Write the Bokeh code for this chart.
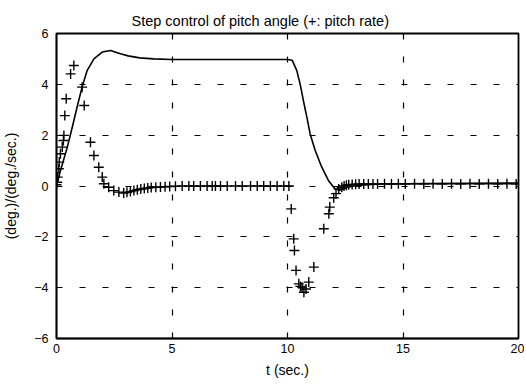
from bokeh.plotting import figure
from bokeh.models import Range1d, FixedTicker, Title
from bokeh.embed import file_html
from bokeh.resources import INLINE

# pitch angle (solid line)
t_angle = [0, 0.17, 0.46, 0.68, 0.89, 1.11, 1.33, 1.62, 1.98, 2.34, 2.77, 3.1, 3.6, 4.2, 5.0, 7.0,
           10.0, 10.2, 10.4, 10.55, 10.69, 10.84, 10.98, 11.2, 11.48, 11.77, 12.06, 12.25, 12.6,
           13.0, 14.0, 16.0, 20.0]
angle = [0, 0.6, 1.5, 2.3, 3.1, 3.9, 4.55, 5.0, 5.27, 5.33, 5.2, 5.12, 5.04, 5.0, 4.98, 4.98,
         4.98, 4.95, 4.55, 4.0, 3.35, 2.7, 2.05, 1.4, 0.75, 0.22, -0.12, -0.17, -0.05,
         0.02, 0.08, 0.1, 0.12]

# pitch rate (+ markers)
t_rate = [0.0, 0.03, 0.05, 0.1, 0.12, 0.17, 0.25, 0.3, 0.32, 0.36, 0.42, 0.61, 0.75, 1.11, 1.2,
          1.47, 1.62, 1.83, 1.98, 2.05, 2.26, 2.48, 2.7, 2.91, 3.05, 3.2, 3.35, 3.5, 3.65, 3.8,
          3.95, 4.1, 4.3, 4.5, 4.7, 4.9, 5.15, 5.44, 5.73, 5.94, 6.23, 6.52, 6.74, 6.88, 7.1,
          7.39, 7.75, 8.04, 8.4, 8.69, 8.97, 9.26, 9.55, 9.84, 10.06, 10.16, 10.27, 10.3, 10.37,
          10.49, 10.56, 10.63, 10.71, 10.8, 10.92, 11.14, 11.57, 11.79, 11.83, 12.0, 12.1, 12.22,
          12.35, 12.45, 12.55, 12.65, 12.8, 12.95, 13.1, 13.3, 13.5, 13.7, 13.9, 14.2, 14.5,
          14.8, 15.1, 15.5, 15.9, 16.3, 16.7, 17.1, 17.5, 17.9, 18.3, 18.7, 19.1, 19.5, 19.9]
rate = [0.05, 0.15, 0.35, 0.68, 0.94, 1.27, 1.53, 1.79, 1.99, 2.77, 3.43, 4.41, 4.74, 3.89, 3.17,
        1.72, 1.2, 0.74, 0.35, 0.09, -0.05, -0.18, -0.24, -0.28, -0.25, -0.22, -0.18, -0.15,
        -0.12, -0.1, -0.08, -0.06, -0.05, -0.04, -0.03, -0.02, -0.01, 0.0, 0.0, 0.0, 0.0, 0.0,
        0.0, 0.0, 0.0, 0.0, 0.0, 0.0, 0.0, 0.0, 0.0, 0.0, 0.0, 0.0, 0.0, -0.9, -2.08, -2.54,
        -3.32, -3.85, -3.95, -3.98, -4.18, -4.05, -3.78, -3.19, -1.68, -1.09, -0.83, -0.46,
        -0.3, -0.12, -0.05, 0.0, 0.03, 0.05, 0.06, 0.07, 0.08, 0.08, 0.08, 0.08, 0.08, 0.09,
        0.08, 0.09, 0.08, 0.09, 0.08, 0.09, 0.08, 0.09, 0.08, 0.09, 0.08, 0.09, 0.08, 0.09, 0.08]

x_ticks = [0, 5, 10, 15, 20]
y_ticks = [-6, -4, -2, 0, 2, 4, 6]

FONT = "Liberation Sans"

p = figure(width=524, height=384, output_backend="svg", toolbar_location=None,
           x_range=Range1d(0, 20), y_range=Range1d(-6, 6),
           min_border_left=56, min_border_right=6, min_border_top=33, min_border_bottom=46,
           x_axis_label="t (sec.)", y_axis_label="(deg.)/(deg./sec.)")
p.title = Title(text="Step control of pitch angle (+: pitch rate)", align="left", offset=75,
                text_font=FONT, text_font_size="14.5px", text_font_style="normal",
                text_color="black", standoff=10)

p.line(t_angle, angle, line_color="black", line_width=1.6)
p.scatter(t_rate, rate, marker="cross", size=10, line_color="black", line_width=1.4)

for ax, ticks in ((p.xaxis, x_ticks), (p.yaxis, y_ticks)):
    ax.ticker = FixedTicker(ticks=ticks)
    ax.major_tick_in = 5
    ax.major_tick_out = 0
    ax.minor_tick_line_color = None
    ax.axis_line_color = "black"
    ax.axis_line_width = 1.5
    ax.major_tick_line_color = "black"
    ax.major_label_text_font = FONT
    ax.major_label_text_font_size = "12.5px"
    ax.major_label_text_color = "black"
    ax.axis_label_text_font = FONT
    ax.axis_label_text_font_size = "14px"
    ax.axis_label_text_font_style = "normal"
    ax.axis_label_text_color = "black"

p.xaxis.major_label_standoff = 5
p.xaxis.axis_label_standoff = 6
p.yaxis.major_label_standoff = 8
p.yaxis.axis_label_standoff = 12

p.grid.grid_line_color = "black"
p.grid.grid_line_width = 1.2
p.grid.grid_line_dash = "6 17"
p.xgrid.ticker = FixedTicker(ticks=x_ticks)
p.ygrid.ticker = FixedTicker(ticks=y_ticks)

p.outline_line_color = "black"
p.outline_line_width = 1.8
p.background_fill_color = "white"
p.border_fill_color = "white"

open("out.html", "w").write(file_html(p, INLINE))
